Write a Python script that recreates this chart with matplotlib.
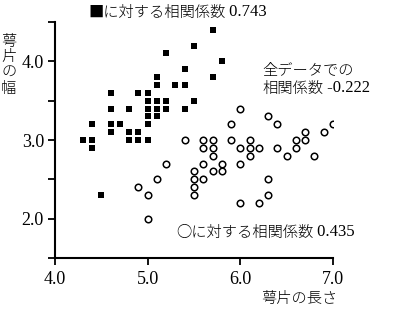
import numpy as np
import matplotlib
matplotlib.use('Agg')
import matplotlib.pyplot as plt
from matplotlib.ticker import MultipleLocator

# sepal length / width
sqX = [5.7, 5.5, 5.2, 5.8, 5.4, 5.1, 5.7, 5.1, 5.3, 5.4, 4.6, 4.9, 5.0, 5.0, 5.1, 5.2, 5.5,
       4.6, 4.8, 5.0, 5.1, 5.2, 5.4, 5.0, 5.1, 4.4, 4.6, 4.7, 5.0, 4.6, 4.8, 4.9,
       4.3, 4.4, 4.8, 4.9, 5.0, 4.4, 4.5]
sqY = [4.4, 4.2, 4.1, 4.0, 3.9, 3.8, 3.8, 3.7, 3.7, 3.7, 3.6, 3.6, 3.6, 3.5, 3.5, 3.5, 3.5,
       3.4, 3.4, 3.4, 3.4, 3.4, 3.4, 3.3, 3.3, 3.2, 3.2, 3.2, 3.2, 3.1, 3.1, 3.1,
       3.0, 3.0, 3.0, 3.0, 3.0, 2.9, 2.3]

ciX = [6.0, 6.3, 5.9, 6.4, 7.0, 6.7, 6.9, 5.4, 5.6, 5.7, 5.9, 6.1, 6.6, 6.7,
       5.6, 5.7, 6.0, 6.1, 6.2, 6.4, 6.6, 5.7, 6.1, 6.5, 6.8,
       5.2, 5.6, 5.8, 6.0, 5.5, 5.7, 5.8, 5.1, 5.5, 5.6, 6.3,
       4.9, 5.5, 5.0, 5.5, 6.3, 6.0, 6.2, 5.0]
ciY = [3.4, 3.3, 3.2, 3.2, 3.2, 3.1, 3.1, 3.0, 3.0, 3.0, 3.0, 3.0, 3.0, 3.0,
       2.9, 2.9, 2.9, 2.9, 2.9, 2.9, 2.9, 2.8, 2.8, 2.8, 2.8,
       2.7, 2.7, 2.7, 2.7, 2.6, 2.6, 2.6, 2.5, 2.5, 2.5, 2.5,
       2.4, 2.4, 2.3, 2.3, 2.3, 2.2, 2.2, 2.0]

corrSq = '0.743'
corrCi = '0.435'
corrAll = '-0.222'

jp = 'Noto Sans CJK JP'
num = 'Liberation Serif'


def label(fig, x, y, jpText, numText, size=11):
    # japanese part then the number in serif right after it
    t = fig.text(x, y, jpText, fontfamily=jp, fontsize=size, fontweight='light',
                 va='baseline', ha='left')
    if numText:
        plt.annotate(' ' + numText, xy=(1, 0), xycoords=t, va='bottom', ha='left',
                     fontfamily=num, fontsize=size + 1, annotation_clip=False)
    return t


fig = plt.figure(figsize=(4, 3.1), dpi=100)
ax = fig.add_axes([55/400, 1-258/310, 278/400, 236/310])

ax.scatter(sqX, sqY, marker='s', s=22, c='black', linewidths=0)
ax.scatter(ciX, ciY, marker='o', s=22, facecolors='white', edgecolors='black', linewidths=1.1)

ax.set_xlim(4.0, 7.0)
ax.set_ylim(1.5, 4.5)
ax.set_xticks([4.0, 5.0, 6.0, 7.0])
ax.set_xticklabels(['4.0', '5.0', '6.0', '7.0'], fontfamily=num, fontsize=13)
ax.set_yticks([2.0, 3.0, 4.0])
ax.set_yticklabels(['2.0', '3.0', '4.0'], fontfamily=num, fontsize=13)
ax.yaxis.set_minor_locator(MultipleLocator(0.5))
ax.tick_params(which='both', direction='out', length=5, width=1.3, color='black')
ax.tick_params(axis='x', pad=4)
ax.tick_params(axis='y', pad=3)

for s in ['top', 'right']:
    ax.spines[s].set_visible(False)
for s in ['left', 'bottom']:
    ax.spines[s].set_linewidth(1.5)

# axis titles
fig.text(299/400, 1-299/310, '萼片の長さ', fontfamily=jp, fontsize=11, fontweight='light',
         ha='center', va='center')
fig.text(9/400, 1-65/310, '萼\n片\nの\n幅', fontfamily=jp, fontsize=11, fontweight='light',
         ha='center', va='center', linespacing=1.15)

# correlation notes
label(fig, 88/400, 1-17/310, '■に対する相関係数', corrSq)
fig.text(262/400, 1-75/310, '全データでの', fontfamily=jp, fontsize=11, fontweight='light',
         va='baseline')
label(fig, 262/400, 1-93/310, '相関係数', corrAll)
label(fig, 176/400, 1-237/310, '○に対する相関係数', corrCi)

fig.savefig('out.png', dpi=100)
